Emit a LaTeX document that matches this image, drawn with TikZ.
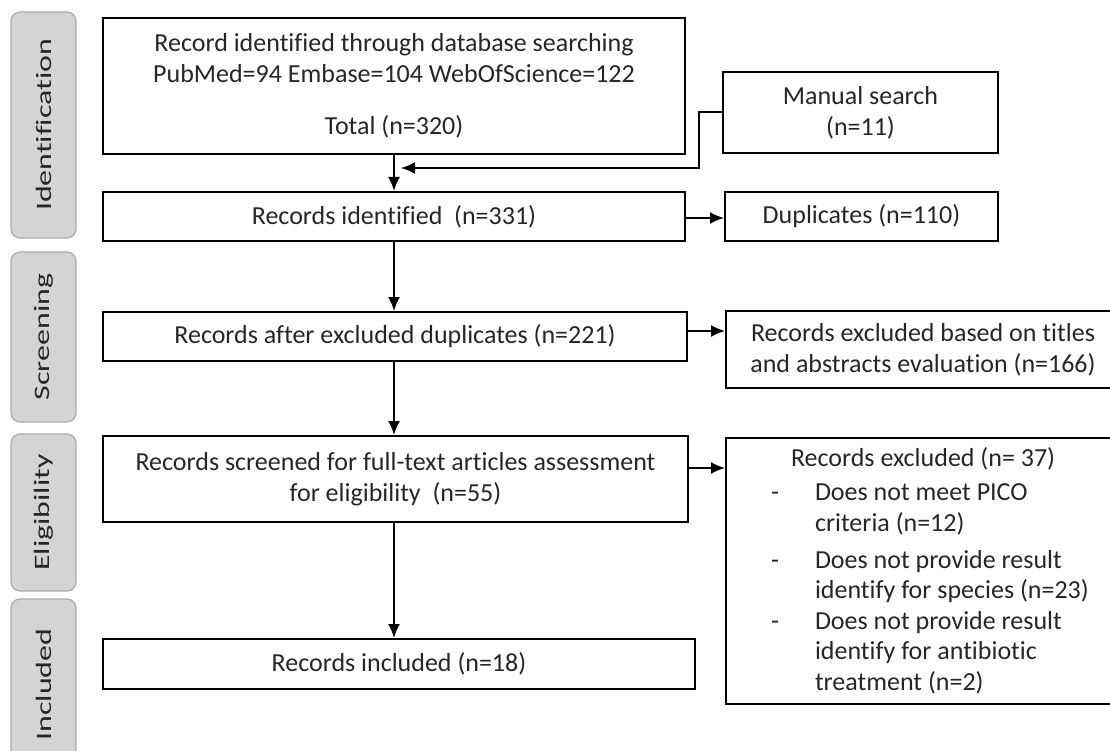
\documentclass[tikz,border=0pt]{standalone}
\usepackage{fontspec}
\setmainfont{Carlito}[Ligatures=NoCommon]
\usetikzlibrary{calc,arrows.meta}
\definecolor{colortext}{HTML}{262626}
\definecolor{colorstage}{HTML}{D4D4D4}
\definecolor{colorstageline}{HTML}{ABABAB}
\tikzset{
    box/.style={draw, line width=2pt, inner sep=0pt, align=center, text=colortext,
        font=\fontsize{26}{31}\selectfont},
    stage/.style={draw=colorstageline, fill=colorstage, rounded corners=9pt, line width=1.2pt,
        rotate=90, minimum height=65pt, inner sep=0pt, text=colortext},
    arr/.style={line width=2pt, -{Latex[length=14pt,width=12pt]}}
}

\begin{document}
\begin{tikzpicture}[x=1pt, y=-1pt]
        \useasboundingbox (0,0) rectangle (1110,751);
        \clip (0,0) rectangle (1110,751);

        \foreach \lbl/\yc/\len [count=\k] in {Identification/125/226, Screening/337/170,
            Eligibility/512.5/157, Included/684.5/171} {
            \node[stage, minimum width=\len pt] (stage\k) at (43.5,\yc)
                {\scalebox{1.45}[1]{\fontsize{22}{22}\selectfont \lbl}};
        }

        \node[box, minimum width=582pt, minimum height=136pt] (db) at (394,86)
            {Record identified through database searching\\
             PubMed=94 Embase=104 WebOfScience=122\\[21pt]
             Total (n=320)};
        \node[box, minimum width=275pt, minimum height=81pt] (manual) at (860.5,112.5)
            {Manual search\\(n=11)};
        \node[box, minimum width=582pt, minimum height=49pt] (ident) at (394,216.5)
            {Records identified \ (n=331)};
        \node[box, minimum width=273pt, minimum height=49pt] (dup) at (861.5,216.5)
            {Duplicates (n=110)};
        \node[box, minimum width=584pt, minimum height=49pt] (afterdup) at (395,336.5)
            {Records after excluded duplicates (n=221)};
        \node[box, minimum width=394pt, minimum height=77pt] (exclta) at (923,349.5)
            {Records excluded based on titles\\and abstracts evaluation (n=166)};
        \node[box, minimum width=585pt, minimum height=86pt] (screened) at (395.5,479)
            {Records screened for full-text articles assessment\\for eligibility \ (n=55)};
        \node[box, minimum height=266pt, text width=394pt, align=left,
            font=\fontsize{26}{30.5}\selectfont] (exclfull) at (923,571)
            {\spaceskip=0pt\xspaceskip=0pt\relax
             \hspace*{65pt}Records excluded (n= 37)\\[3.5pt]
             \hspace*{45pt}\makebox[44pt][l]{-}Does not meet PICO\\
             \hspace*{89pt}criteria (n=12)\\[6.5pt]
             \hspace*{45pt}\makebox[44pt][l]{-}Does not provide result\\
             \hspace*{89pt}identify for species (n=23)\\
             \hspace*{45pt}\makebox[44pt][l]{-}Does not provide result\\
             \hspace*{89pt}identify for antibiotic\\
             \hspace*{89pt}treatment (n=2)};
        \node[box, minimum width=592pt, minimum height=50pt] (included) at (399,664)
            {Records included (n=18)};

        % manual search joins the first arrow
        \coordinate (join) at (401,168);
        \draw[arr] (manual.west) -- ++(-23,0) |- (join);

        \foreach \a/\b in {db/ident, ident/afterdup, afterdup/screened, screened/included} {
            \draw[arr] (\a.south -| db.south) -- (\b.north -| db.south);
        }

        \foreach \a/\b/\dy in {ident/dup/1.5, afterdup/exclta/-5.5, screened/exclfull/-11} {
            \draw[arr] ($(\a.east)+(0,\dy)$) -- ($(\a.east -| \b.west)+(0,\dy)$);
        }
    \end{tikzpicture}
\end{document}
